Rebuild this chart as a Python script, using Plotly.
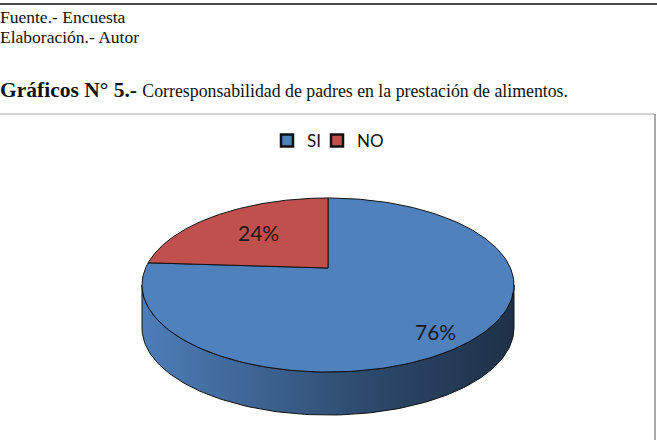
import numpy as np
import plotly.graph_objects as go

# ---------------- data ----------------
labels = ["SI", "NO"]
values = [76, 24]
pct_text = ["76%", "24%"]
colors = ["#4f81bd", "#c0504d"]

header_lines = ["Fuente.- Encuesta", "Elaboración.- Autor"]
title_bold = "Gráficos N° 5.-"
title_rest = "Corresponsabilidad de padres en la prestación de alimentos."

# ---------------- geometry / style ----------------
W, H = 657, 440
CX, CY = 328, 268          # projected pie centre (pixels)
SX, SV, K = 182.4, 83.7, 0.1955   # perspective projection params
DEPTH = 43                 # thickness of the 3D side
LABEL_R = {"SI": 0.77, "NO": 0.60}
LABEL_DY = {"SI": 11, "NO": -2}
LEGEND_X = {"SI": 267, "NO": 317}   # left edge of each legend box (px)


def proj(theta_deg, r=1.0):
    t = np.radians(theta_deg)
    X = r * np.cos(t)
    Y = r * np.sin(t)
    den = 1 + K * Y
    return CX + SX * X / den, CY - SV * Y / den


def shade(hexcol, f):
    h = hexcol.lstrip("#")
    r, g, b = (int(h[i:i + 2], 16) for i in (0, 2, 4))
    return "rgb(%d,%d,%d)" % (r * f, g * f, b * f)


fig = go.Figure()

# slice angular ranges (start at 12 o'clock, clockwise)
total = float(sum(values))
slices = []
start = 90.0
for lab, v, col, txt in zip(labels, values, colors, pct_text):
    sweep = 360.0 * v / total
    slices.append((lab, col, start - sweep, start, txt))
    start -= sweep

# visible front of the side: between the two silhouette points
a = np.degrees(np.arcsin(K))
front_lo, front_hi = 180 + a, 360 - a

# ---- side walls ----
for lab, col, lo, hi, txt in slices:
    for shift in (-720, -360, 0, 360, 720):
        l2, h2 = max(lo + shift, front_lo), min(hi + shift, front_hi)
        if h2 - l2 <= 0.01:
            continue
        th = np.linspace(l2, h2, 120)
        xt, yt = proj(th)
        xs = np.concatenate([xt, xt[::-1], xt[:1]])
        ys = np.concatenate([yt, yt[::-1] + DEPTH, yt[:1]])
        fig.add_trace(go.Scatter(
            x=xs, y=ys, mode="lines", fill="toself",
            fillgradient=dict(type="horizontal", colorscale=[
                [0.0, shade(col, 0.98)], [0.35, shade(col, 0.75)],
                [0.65, shade(col, 0.55)], [1.0, shade(col, 0.38)]]),
            line=dict(color="#111111", width=1),
            showlegend=False, hoverinfo="skip"))

# ---- top wedges ----
for lab, col, lo, hi, txt in slices:
    th = np.linspace(hi, lo, 200)
    xa, ya = proj(th)
    xs = np.concatenate([[CX], xa, [CX]])
    ys = np.concatenate([[CY], ya, [CY]])
    fig.add_trace(go.Scatter(
        x=xs, y=ys, mode="lines", fill="toself", fillcolor=col,
        line=dict(color="#111111", width=1), name=lab,
        showlegend=False, hoverinfo="skip"))

# ---- legend entries (square swatches), one legend box each ----
legend_font = dict(family="Lato, Open Sans, sans-serif", size=17,
                   color="#111111")
layout_legends = {}
for i, (lab, col) in enumerate(zip(labels, colors)):
    lname = "legend" if i == 0 else "legend%d" % (i + 1)
    fig.add_trace(go.Scatter(
        x=[None], y=[None], mode="markers", name=lab, legend=lname,
        marker=dict(symbol="square", size=12, color=col,
                    line=dict(color="#111111", width=2.5)),
        showlegend=True, hoverinfo="skip"))
    layout_legends[lname] = dict(
        orientation="h", x=LEGEND_X[lab] / W, xanchor="left",
        y=1 - 141 / H, yanchor="middle", font=legend_font,
        itemwidth=30, bgcolor="rgba(0,0,0,0)")

# ---- percentage labels ----
for lab, col, lo, hi, txt in slices:
    lx, ly = proj((lo + hi) / 2.0, LABEL_R[lab])
    fig.add_annotation(x=float(lx), y=float(ly) + LABEL_DY[lab], text=txt,
                       showarrow=False, xref="x", yref="y",
                       font=dict(family="Lato, Open Sans, sans-serif",
                                 size=21, color="#1a1a1a"))

# ---- document header text ----
for i, t in enumerate(header_lines):
    fig.add_annotation(x=0, xshift=-2, y=17 + 20 * i, text=t,
                       showarrow=False, xref="x", yref="y",
                       xanchor="left", yanchor="middle",
                       font=dict(family="Liberation Serif, serif",
                                 size=17.5, color="#111111"))
fig.add_annotation(x=0, xshift=-2, y=90,
                   text="<b>%s</b> <span style='font-size:17.8px'>%s</span>"
                        % (title_bold, title_rest),
                   showarrow=False, xref="x", yref="y",
                   xanchor="left", yanchor="middle",
                   font=dict(family="Liberation Serif, serif",
                             size=21.5, color="#111111"))

# ---- page rules / chart frame ----
fig.add_shape(type="line", x0=0, x1=W, y0=4, y1=4,
              line=dict(color="#4a4a4a", width=2), xref="x", yref="y")
fig.add_shape(type="line", x0=0, x1=655, y0=114, y1=114,
              line=dict(color="#c4c4c4", width=1.5), xref="x", yref="y")
fig.add_shape(type="line", x0=655, x1=655, y0=114, y1=H,
              line=dict(color="#a8a8a8", width=2), xref="x", yref="y")

fig.update_layout(
    width=W, height=H, autosize=False,
    margin=dict(l=0, r=0, t=0, b=0),
    paper_bgcolor="white", plot_bgcolor="white",
    xaxis=dict(range=[0, W], visible=False, fixedrange=True),
    yaxis=dict(range=[H, 0], visible=False, fixedrange=True),
    showlegend=True,
    **layout_legends,
)

fig.write_html("out.html")
